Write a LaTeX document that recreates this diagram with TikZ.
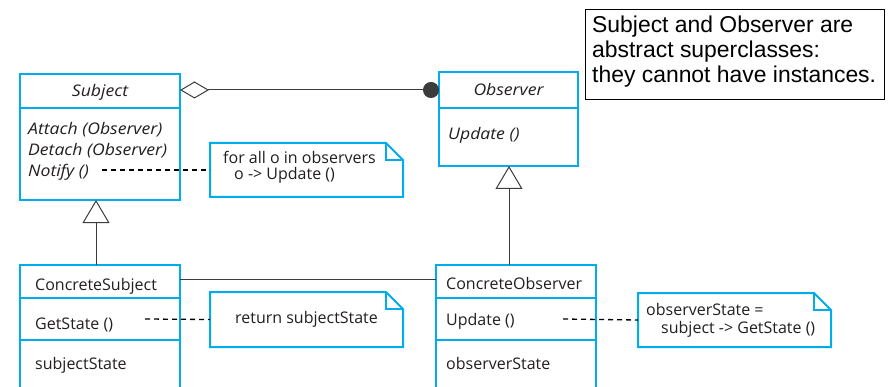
\documentclass[tikz,border=0pt]{standalone}
\usepackage{fontspec}
\setmainfont{Open Sans}
\newfontfamily\umlitfont[FakeStretch=1.1]{Open Sans}
\newfontfamily\remarkfont{Liberation Sans}
\usetikzlibrary{arrows.meta}
\definecolor{umlblue}{RGB}{0,172,236}
\definecolor{ink}{RGB}{35,31,32}
\definecolor{wire}{RGB}{60,60,60}

% outline of a UML note with a folded corner
\newcommand\notefold[1]{%
  \draw[draw=umlblue, line width=2pt, fill=white, line join=miter]
    (#1.south west) -- (#1.north west) -- ([xshift=-17pt]#1.north east)
    -- ([yshift=-17pt]#1.north east) -- (#1.south east) -- cycle;
  \draw[draw=umlblue, line width=1.6pt]
    ([xshift=-17pt]#1.north east) -- ([xshift=-17pt,yshift=-17pt]#1.north east)
    -- ([yshift=-17pt]#1.north east);
}

\begin{document}
\begin{tikzpicture}[x=1pt, y=-1pt,
  classbox/.style={draw=umlblue, line width=2pt, fill=white, inner sep=0pt,
    anchor=north west, outer sep=0pt},
  notebox/.style={inner sep=0pt, anchor=north west, outer sep=0pt},
  divider/.style={draw=umlblue, line width=1.5pt},
  umltext/.style={inner sep=0pt, anchor=base west, text=ink,
    font=\fontsize{16}{18}\selectfont},
  umlitalic/.style={umltext, font=\umlitfont\fontsize{16}{18}\selectfont\itshape},
  umlname/.style={umlitalic, anchor=base},
  remarkline/.style={inner sep=0pt, anchor=base west, text=black,
    font=\remarkfont\fontsize{22.9}{25}\selectfont},
  wireline/.style={draw=wire, line width=1pt},
  dashline/.style={draw=black, line width=1.3pt, dash pattern=on 5pt off 4pt},
  inherit/.style={wireline, -{Triangle[open, length=23pt, width=27pt, line width=1pt]}},
]
\useasboundingbox (0,0) rectangle (890,387);
\clip (0,0) rectangle (890,387);

% ---- abstract classes ----
\node[classbox, minimum width=160pt, minimum height=126pt] (subject) at (20,74) {};
\draw[divider] (20,108) -- (180,108);
\node[umlname] (subjectname) at (100,97) {Subject};
\node[umlitalic] (attach) at (28,135) {Attach (Observer)};
\node[umlitalic] (detach) at (28,156) {Detach (Observer)};
\node[umlitalic] (notify) at (28,177) {Notify ()};

\node[classbox, minimum width=139pt, minimum height=94pt] (observer) at (439,72) {};
\draw[divider] (439,108) -- (578,108);
\node[umlname] (observername) at (508.5,96) {Observer};
\node[umlitalic] (update) at (448,140) {Update ()};

% ---- concrete classes ----
\node[classbox, minimum width=160pt, minimum height=140pt] (concsubject) at (20,265) {};
\draw[divider] (20,298) -- (180,298);
\draw[divider] (20,340) -- (180,340);
\node[umltext] (csname) at (35,290) {ConcreteSubject};
\node[umltext] (getstate) at (35,329) {GetState ()};
\node[umltext] (substate) at (35,369) {subjectState};

\node[classbox, minimum width=160pt, minimum height=140pt] (concobserver) at (436,265) {};
\draw[divider] (436,298) -- (596,298);
\draw[divider] (436,340) -- (596,340);
\node[umltext] (coname) at (446,289) {ConcreteObserver};
\node[umltext] (coupdate) at (446,325) {Update ()};
\node[umltext] (obsstate) at (446,369) {observerState};

% ---- relations ----
\draw[wireline, {Diamond[open, length=29pt, width=17pt, line width=1pt]}-{Circle[length=16pt, width=16pt]}]
  (subject.east |- 0,90) -- (observer.west |- 0,90);
\draw[inherit] (concsubject.north -| 96,0) -- (subject.south -| 96,0);
\draw[inherit] (concobserver.north -| 509,0) -- (observer.south -| 509,0);
\draw[wireline] (concsubject.east |- 0,279) -- (concobserver.west |- 0,279);

% ---- notes ----
\node[notebox, minimum width=193pt, minimum height=54pt] (note1) at (210,143) {};
\notefold{note1}
\node[umltext] (note1a) at (223,164) {for all o in observers};
\node[umltext] (note1b) at (234,180) {o -> Update ()};

\node[notebox, minimum width=193pt, minimum height=55pt] (note2) at (210,292) {};
\notefold{note2}
\node[umltext] (note2a) at (235,323) {return subjectState};

\node[notebox, minimum width=193pt, minimum height=54pt] (note3) at (638,293) {};
\notefold{note3}
\node[umltext] (note3a) at (646,315) {observerState =};
\node[umltext] (note3b) at (661,333) {subject -> GetState ()};

\coordinate (notifyend) at (102,170);
\coordinate (getstateend) at (145,319);
\coordinate (updateend) at (563,319);
\draw[dashline] (notifyend) -- (note1.west);
\draw[dashline] (getstateend) -- (note2.west);
\draw[dashline] (updateend) -- (note3.west);

% ---- remark ----
\node[draw=black, line width=1.3pt, fill=white, anchor=north west, inner sep=0pt,
  minimum width=299pt, minimum height=90pt] (remark) at (585,9) {};
\node[remarkline] (remark1) at (592,33) {Subject and Observer are};
\node[remarkline] (remark2) at (592,58) {abstract superclasses:};
\node[remarkline] (remark3) at (592,83) {they cannot have instances.};
\end{tikzpicture}
\end{document}
